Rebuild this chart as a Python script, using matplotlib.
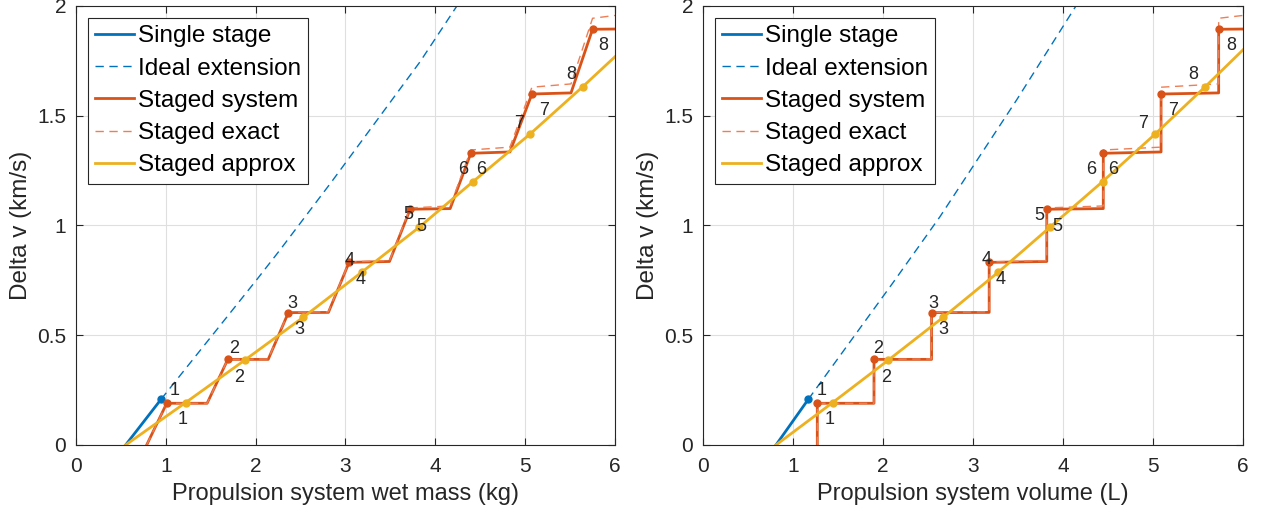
import numpy as np
import matplotlib
matplotlib.use("Agg")
import matplotlib.pyplot as plt

plt.rcParams['font.family'] = ['Liberation Sans', 'DejaVu Sans']

# shared delta-v levels for each stage (km/s)
stages = [1, 2, 3, 4, 5, 6, 7, 8]
dv_stage = [0.19, 0.39, 0.603, 0.832, 1.074, 1.329, 1.599, 1.894]
dv_stage_end = [0.19, 0.39, 0.604, 0.836, 1.077, 1.335, 1.604, 1.895]
dv_exact_start = [0.19, 0.39, 0.604, 0.834, 1.080, 1.344, 1.630, 1.944]
dv_exact_end = [0.19, 0.392, 0.607, 0.840, 1.089, 1.357, 1.645, 1.957]
dv_approx = [0.193, 0.387, 0.582, 0.787, 0.992, 1.200, 1.415, 1.632]

# wet mass (kg)
mass_single = [0.553, 0.947]
dv_single = [0.0, 0.208]
mass_ideal = [0.947, 2.01, 2.27, 2.847, 3.83, 4.24]
dv_ideal_mass = [0.208, 0.752, 0.888, 1.2, 1.746, 2.0]
mass_sys_start = 0.787
mass_stage = [1.01, 1.69, 2.364, 3.04, 3.72, 4.395, 5.075, 5.75]
mass_stage_end = [1.46, 2.14, 2.81, 3.49, 4.165, 4.83, 5.51, 6.0]
mass_approx = [0.553, 1.22, 1.88, 2.53, 3.18, 3.82, 4.42, 5.05, 5.64, 6.0]
dv_approx_mass = [0.0] + dv_approx + [1.769]

# volume (L)
vol_single = [0.811, 1.17]
vol_ideal = [1.17, 2.107, 2.633, 3.485, 4.144]
dv_ideal_vol = [0.208, 0.737, 1.04, 1.572, 2.0]
vol_sys_start = 1.27
vol_stage = [1.27, 1.90, 2.54, 3.18, 3.82, 4.448, 5.09, 5.73]
vol_stage_end = [1.90, 2.54, 3.18, 3.82, 4.448, 5.09, 5.73, 6.0]
vol_approx = [0.811, 1.44, 2.06, 2.67, 3.28, 3.855, 4.44, 5.02, 5.58, 6.0]
dv_approx_vol = [0.0] + dv_approx + [1.80]

# label offsets in pixels (dx right, dy down)
red_off_mass = [(8, -13), (6, -11), (4, -9), (1, -2), (-2, 5), (-8, 16), (-13, 29), (-21, 45)]
yel_off_mass = [(-3, 17), (-6, 17), (-4, 12), (-1, 7), (2, -1), (8, -12), (14, -24), (21, -41)]
red_off_vol = [(4, -13), (4, -11), (2, -9), (-3, -3), (-7, 6), (-12, 16), (-18, 29), (-25, 45)]
yel_off_vol = [(-3, 17), (-2, 17), (0, 12), (2, 7), (7, -1), (11, -12), (18, -24), (26, -41)]

BLUE = '#0072BD'
ORANGE = '#D95319'
ORANGE_LT = '#EE7E55'
YELLOW = '#EDB120'
INK = '#262626'


def steps(x0, xs, xe, ys, ye):
    px, py = [x0], [0.0]
    for a, b, c, d in zip(xs, xe, ys, ye):
        px += [a, b]
        py += [c, d]
    return px, py


def panel(ax, xsingle, xideal, yideal, x0, xs, xe, xa, ya, roff, yoff, xlabel):
    ax.plot(xsingle, dv_single, color=BLUE, lw=2, label='Single stage')
    ax.plot(xideal, yideal, color=BLUE, lw=1, ls=(0, (6, 4)), label='Ideal extension')
    sx, sy = steps(x0, xs, xe, dv_stage, dv_stage_end)
    ax.plot(sx, sy, color=ORANGE, lw=2, label='Staged system')
    ex, ey = steps(x0, xs, xe, dv_exact_start, dv_exact_end)
    ax.plot(ex, ey, color=ORANGE_LT, lw=1, ls=(0, (6, 4)), label='Staged exact')
    ax.plot(xa, ya, color=YELLOW, lw=2, label='Staged approx')

    ax.plot(xsingle[-1], dv_single[-1], 'o', color=BLUE, ms=5)
    ax.plot(xs, dv_stage, 'o', color=ORANGE, ms=5, ls='none')
    ax.plot(xa[1:-1], ya[1:-1], 'o', color=YELLOW, ms=5, ls='none')

    for k, x, y, (dx, dy) in zip(stages, xs, dv_stage, roff):
        ax.annotate(str(k), (x, y), xytext=(dx, -dy), textcoords='offset pixels',
                    ha='center', va='center', fontsize=13, color=INK)
    for k, x, y, (dx, dy) in zip(stages, xa[1:-1], ya[1:-1], yoff):
        ax.annotate(str(k), (x, y), xytext=(dx, -dy), textcoords='offset pixels',
                    ha='center', va='center', fontsize=13, color=INK)

    ax.set_xlim(0, 6)
    ax.set_ylim(0, 2)
    ax.set_xticks(range(7))
    ax.set_yticks([0, 0.5, 1, 1.5, 2])
    ax.set_yticklabels(['0', '0.5', '1', '1.5', '2'])
    ax.grid(True, color='#DFDFDF', lw=0.8)
    ax.set_axisbelow(True)
    ax.tick_params(direction='in', top=True, right=True, length=5, width=0.8,
                   colors=INK, labelsize=15, pad=7)
    ax.tick_params(axis='x', pad=9)
    for s in ax.spines.values():
        s.set_color(INK)
        s.set_linewidth(0.8)
    ax.set_xlabel(xlabel, fontsize=17, color=INK, labelpad=5)
    ax.set_ylabel('Delta v (km/s)', fontsize=17.5, color=INK, labelpad=4)
    leg = ax.legend(loc='upper left', fontsize=17.5, handlelength=1.6, handletextpad=0.15,
                    borderaxespad=0.5, labelspacing=0.42, fancybox=False,
                    edgecolor=INK, framealpha=1, borderpad=0.3, handleheight=0.7)
    leg.get_frame().set_linewidth(0.8)


fig = plt.figure(figsize=(12.66, 5.21), dpi=100)
ax1 = fig.add_axes([0.060, 0.1459, 0.4258, 0.8426])
ax2 = fig.add_axes([0.5553, 0.1459, 0.4265, 0.8426])

panel(ax1, mass_single, mass_ideal, dv_ideal_mass, mass_sys_start, mass_stage, mass_stage_end,
      mass_approx, dv_approx_mass, red_off_mass, yel_off_mass, 'Propulsion system wet mass (kg)')
panel(ax2, vol_single, vol_ideal, dv_ideal_vol, vol_sys_start, vol_stage, vol_stage_end,
      vol_approx, dv_approx_vol, red_off_vol, yel_off_vol, 'Propulsion system volume (L)')

fig.savefig('out.png', dpi=100)
